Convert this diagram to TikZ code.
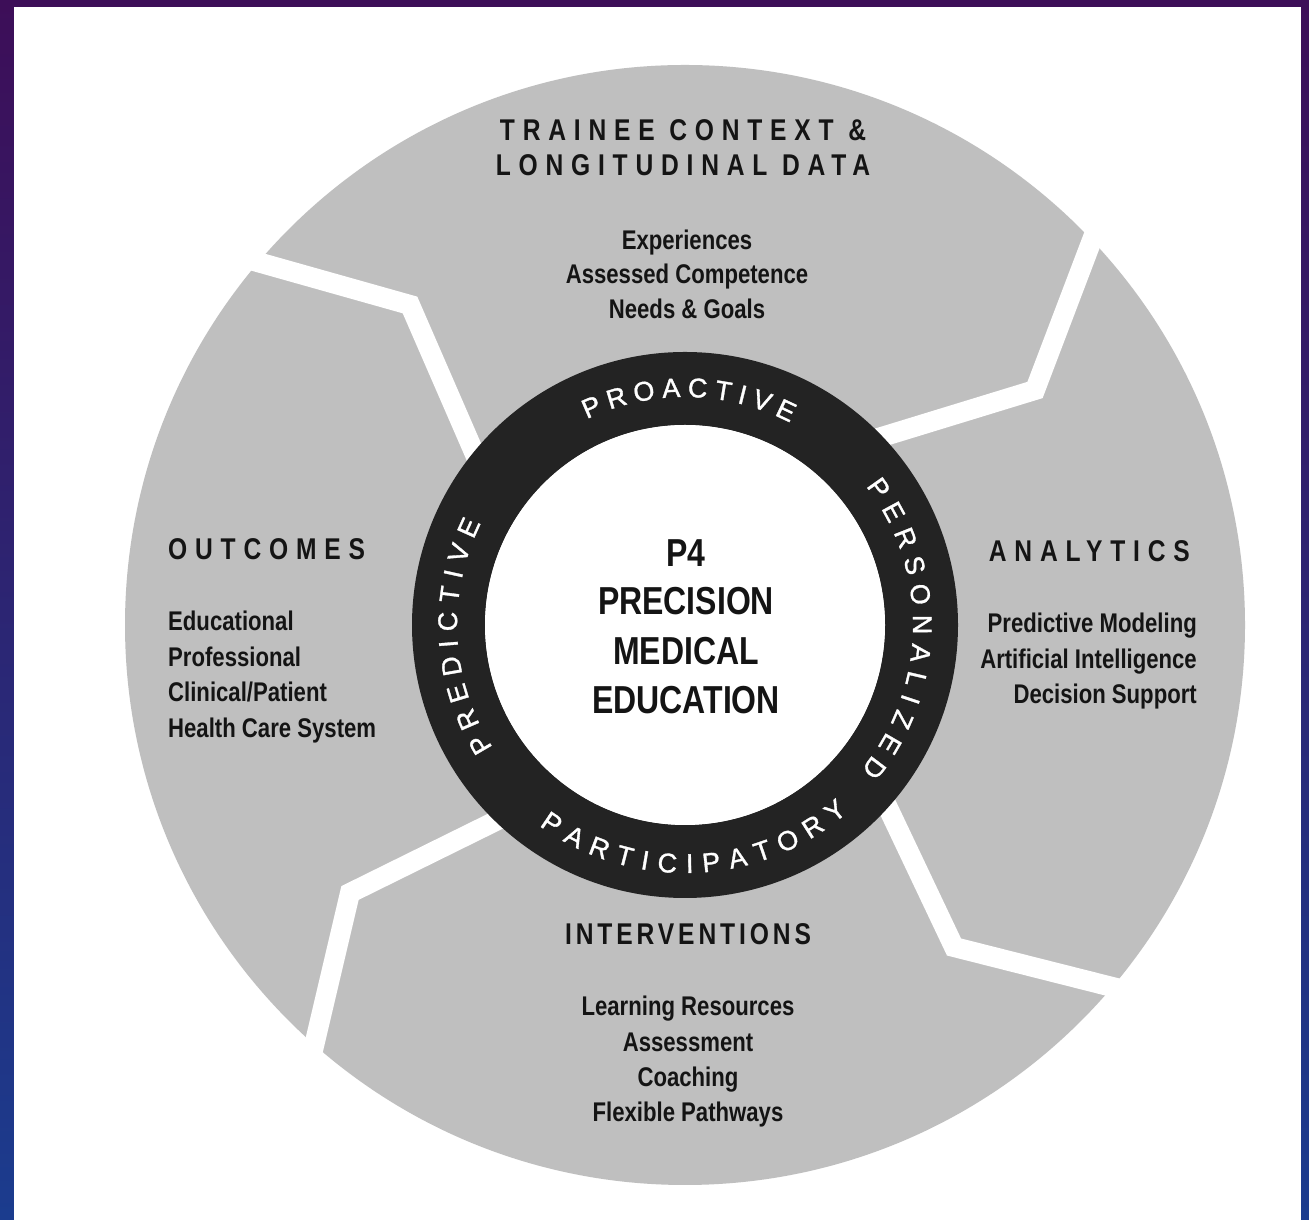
\documentclass[tikz,border=0pt]{standalone}
\usepackage{fontspec}
\setmainfont{Liberation Sans}
\newfontfamily\cond[FakeStretch=0.82]{Liberation Sans}
\newfontfamily\ringfont[FakeBold=1.2]{Liberation Sans}
\usetikzlibrary{calc,decorations.text}
\definecolor{bgtop}{HTML}{3D0E58}
\definecolor{bgbot}{HTML}{1B3C8E}
\definecolor{diskgrey}{HTML}{BFBFBF}
\definecolor{ringblack}{HTML}{232323}
\definecolor{inkc}{HTML}{141414}
\tikzset{
  gapline/.style={white, line width=20pt, line join=miter, line cap=butt},
  headtext/.style={inner sep=0pt, text=inkc, font=\cond\bfseries\fontsize{30}{36}\selectfont\addfontfeatures{LetterSpace=26}},
  headtextnarrow/.style={inner sep=0pt, text=inkc, font=\cond\bfseries\fontsize{30}{36}\selectfont\addfontfeatures{LetterSpace=13}},
  bodytext/.style={inner sep=0pt, text=inkc, font=\cond\bfseries\fontsize{27}{32}\selectfont},
  centertext/.style={inner sep=0pt, text=inkc, font=\cond\bfseries\fontsize{39}{46}\selectfont},
  ringword/.style={decorate, decoration={text along path, text color=white, text align={fit to path}, text={|\ringfont\fontsize{27}{32}\selectfont|#1}}}
}
\begin{document}
\begin{tikzpicture}[x=1pt,y=1pt]
\useasboundingbox (0,0) rectangle (1309,1220);
\shade[top color=bgtop, bottom color=bgbot] (0,0) rectangle (1309,1220);
\fill[white] (14,0) rectangle (1301,1213);
\coordinate (C) at (685,595);
\fill[diskgrey] (C) circle[radius=560];
% white gaps between segments
\coordinate (g1a) at (229,966); \coordinate (g1b) at (410,915); \coordinate (g1c) at (480,754);
\coordinate (g2a) at (1100,1001); \coordinate (g2b) at (1035,830); \coordinate (g2c) at (862,777);
\coordinate (g3a) at (880,429); \coordinate (g3b) at (954,273); \coordinate (g3c) at (1140,226);
\coordinate (g4a) at (510,406); \coordinate (g4b) at (350,327); \coordinate (g4c) at (310,157);
\draw[gapline] (g1a) -- (g1b) -- (g1c);
\draw[gapline] (g2a) -- (g2b) -- (g2c);
\draw[gapline] (g3a) -- (g3b) -- (g3c);
\draw[gapline] (g4a) -- (g4b) -- (g4c);
% ring
\fill[ringblack, even odd rule] (C) circle[radius=273] (C) circle[radius=200];
\fill[white] (C) circle[radius=200];
% ring words
\path[ringword=PROACTIVE] ($(C)+(115.5:228)$) arc[start angle=115.5, end angle=62.5, radius=228];
\path[ringword=PERSONALIZED] ($(C)+(37.5:228)$) arc[start angle=37.5, end angle=-39.5, radius=228];
\path[ringword=PARTICIPATORY] ($(C)+(-126:248)$) arc[start angle=-126, end angle=-49, radius=248];
\path[ringword=PREDICTIVE] ($(C)+(212.5:228)$) arc[start angle=212.5, end angle=153.5, radius=228];
% centre
\node[centertext, anchor=base] (c1) at (686,653) {P4};
\node[centertext, anchor=base] (c2) at (686,605) {PRECISION};
\node[centertext, anchor=base] (c3) at (686,555) {MEDICAL};
\node[centertext, anchor=base] (c4) at (686,506) {EDUCATION};
% trainee
\node[headtext, anchor=base] (t1) at (683,1079) {TRAINEE CONTEXT \&};
\node[headtext, anchor=base] (t2) at (683,1044) {LONGITUDINAL DATA};
\node[bodytext, anchor=base] (t3) at (687,970) {Experiences};
\node[bodytext, anchor=base] (t4) at (687,936) {Assessed Competence};
\node[bodytext, anchor=base] (t5) at (687,901) {Needs \& Goals};
% outcomes
\node[headtext, anchor=base west] (o1) at (168,660) {OUTCOMES};
\node[bodytext, anchor=base west] (o2) at (168,589) {Educational};
\node[bodytext, anchor=base west] (o3) at (168,553) {Professional};
\node[bodytext, anchor=base west] (o4) at (168,518) {Clinical/Patient};
\node[bodytext, anchor=base west] (o5) at (168,482) {Health Care System};
% analytics
\node[headtext, anchor=base east] (a1) at (1190,658) {ANALYTICS};
\node[bodytext, anchor=base east] (a2) at (1197,587) {Predictive Modeling};
\node[bodytext, anchor=base east] (a3) at (1197,551) {Artificial Intelligence};
\node[bodytext, anchor=base east] (a4) at (1197,516) {Decision Support};
% interventions
\node[headtextnarrow, anchor=base] (i1) at (688,275) {INTERVENTIONS};
\node[bodytext, anchor=base] (i2) at (688,204) {Learning Resources};
\node[bodytext, anchor=base] (i3) at (688,168) {Assessment};
\node[bodytext, anchor=base] (i4) at (688,133) {Coaching};
\node[bodytext, anchor=base] (i5) at (688,98) {Flexible Pathways};
\end{tikzpicture}
\end{document}
